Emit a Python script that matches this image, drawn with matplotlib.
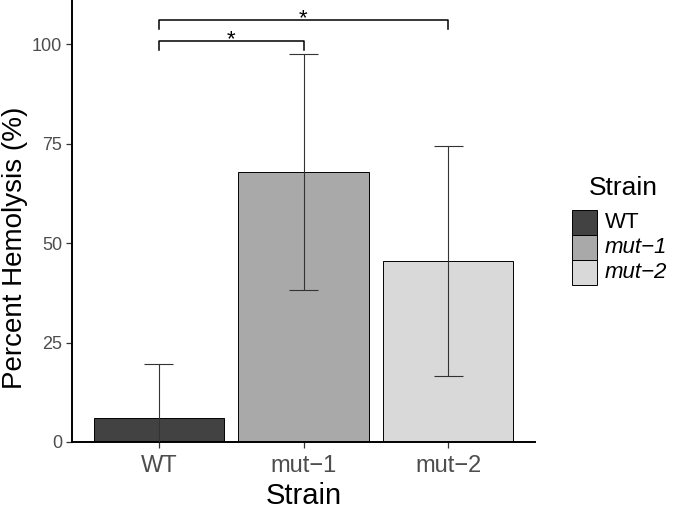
import matplotlib
matplotlib.use("Agg")
import matplotlib.pyplot as plt
from matplotlib.patches import Rectangle

plt.rcParams['font.family'] = ['Liberation Sans', 'DejaVu Sans']

strains = ['WT', 'mut\u22121', 'mut\u22122']
hemolysis = [6.0, 67.8, 45.5]
sd = [13.5, 29.7, 28.8]
colors = ['#424242', '#a9a9a9', '#d9d9d9']

# significance brackets: (from, to, bar height, tick bottom, star baseline)
brackets = [(0, 1, 100.8, 98.5, 99.6), (0, 2, 106.0, 103.8, 104.9)]

W, H = 675, 509
fig = plt.figure(figsize=(W / 100, H / 100), dpi=100)
ax = fig.add_axes([72 / W, (H - 442) / H, (535 - 72) / W, 442 / H])

x = list(range(1, len(strains) + 1))
ax.bar(x, hemolysis, width=0.9, color=colors, edgecolor='black', linewidth=0.7, zorder=2)

# error bars
lo = [m - s for m, s in zip(hemolysis, sd)]
hi = [m + s for m, s in zip(hemolysis, sd)]
ax.vlines(x, lo, hi, color='#333333', linewidth=0.8, zorder=3)
ax.hlines(hi, [i - 0.1 for i in x], [i + 0.1 for i in x], color='#333333', linewidth=0.8, zorder=3)
ax.hlines(lo, [i - 0.1 for i in x], [i + 0.1 for i in x], color='#333333', linewidth=0.8, zorder=3)

# brackets
for a, b, y, yb, ys in brackets:
    ax.plot([x[a], x[a], x[b], x[b]], [yb, y, y, yb], color='black', linewidth=1.1,
            clip_on=False, zorder=4)
    ax.text((x[a] + x[b]) / 2, ys, '*', ha='center', va='baseline', fontsize=16,
            color='black')

ax.set_xlim(0.4, 3.6)
ax.set_ylim(0, 111.06)
ax.set_xticks(x)
ax.set_xticklabels(strains, fontsize=17, color='#4d4d4d')
ax.set_yticks([0, 25, 50, 75, 100])
ax.set_yticklabels(['0', '25', '50', '75', '100'], fontsize=13, color='#4d4d4d')
ax.tick_params(axis='both', length=4, width=0.9, color='#333333')
ax.tick_params(axis='x', pad=5)
ax.tick_params(axis='y', pad=3)

for side in ['top', 'right']:
    ax.spines[side].set_visible(False)
for side in ['left', 'bottom']:
    ax.spines[side].set_linewidth(1.4)
    ax.spines[side].set_color('black')

ax.set_xlabel('Strain', fontsize=21, labelpad=4)
fig.text(15 / W, (H - 248) / H, 'Percent Hemolysis (%)', fontsize=20,
         rotation=90, ha='center', va='center')

# legend
fig.text(623 / W, (H - 195) / H, 'Strain', fontsize=19, ha='center', va='baseline')
rows = [(210, 235), (235, 260), (260, 285)]
for (top, bot), lab, c in zip(rows, strains, colors):
    fig.add_artist(Rectangle((572 / W, (H - bot) / H), 25 / W, (bot - top) / H,
                             transform=fig.transFigure, facecolor=c,
                             edgecolor='black', linewidth=0.7))
    style = 'normal' if lab == 'WT' else 'italic'
    fig.text(605 / W, (H - (top + bot) / 2) / H, lab, fontsize=16, style=style,
             ha='left', va='center')

fig.savefig('out.png', dpi=100)
